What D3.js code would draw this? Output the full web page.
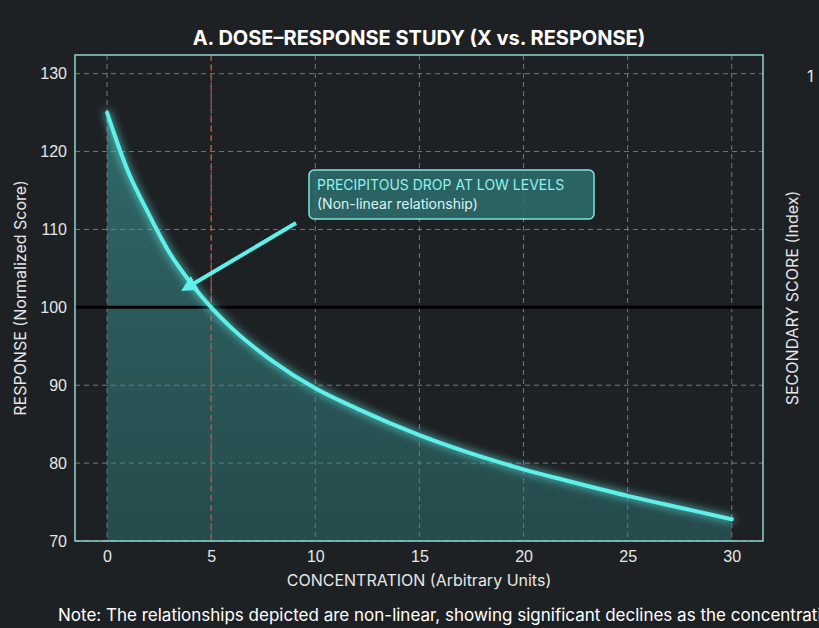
<!DOCTYPE html>
<html>
<head>
<meta charset="utf-8">
<script src="https://cdn.jsdelivr.net/npm/d3@7"></script>
<style>
  body { margin: 0; background: #1e2124; }
  svg { display: block; font-family: "Inter", "Noto Sans", sans-serif; }
</style>
</head>
<body>
<svg id="chart"></svg>
<script>
// neutral placeholder data (dose vs. response)
const xValues = [0, 1, 2, 3, 4, 5, 6, 8, 10, 12, 15, 18, 20, 22, 25, 28, 30];
const yValues = [125, 117.5, 112, 107, 103.2, 100, 97.3, 93, 89.6, 87, 83.6, 80.8, 79.2, 77.8, 75.8, 74, 72.8];
const xTicks = [0, 5, 10, 15, 20, 25, 30];
const yTicks = [70, 80, 90, 100, 110, 120, 130];

const width = 819, height = 628;
const svg = d3.select("#chart").attr("width", width).attr("height", height);

const mLeft = 75, mRight = 763, mTop = 55, mBottom = 541;

const x = d3.scaleLinear().domain([-1.54, 31.5]).range([mLeft, mRight]);
const y = d3.scaleLinear().domain([70, 132.4]).range([mBottom, mTop]);

const defs = svg.append("defs");
const glow = defs.append("filter").attr("id", "glow")
  .attr("x", "-20%").attr("y", "-20%").attr("width", "140%").attr("height", "140%");
glow.append("feGaussianBlur").attr("stdDeviation", 4).attr("result", "blur");
const merge = glow.append("feMerge");
merge.append("feMergeNode").attr("in", "blur");
merge.append("feMergeNode").attr("in", "SourceGraphic");

const grad = defs.append("linearGradient").attr("id", "fillGrad")
  .attr("x1", 0).attr("y1", 0).attr("x2", 0).attr("y2", 1);
grad.append("stop").attr("offset", "0%").attr("stop-color", "#3fa3a0").attr("stop-opacity", 0.55);
grad.append("stop").attr("offset", "100%").attr("stop-color", "#2f7f7d").attr("stop-opacity", 0.45);

// grid
svg.append("g").selectAll("line").data(xTicks).join("line")
  .attr("x1", d => x(d)).attr("x2", d => x(d)).attr("y1", mTop).attr("y2", mBottom)
  .attr("stroke", "#8a8f93").attr("stroke-dasharray", "5,4").attr("stroke-width", 0.8);
svg.append("g").selectAll("line").data(yTicks).join("line")
  .attr("x1", mLeft).attr("x2", mRight).attr("y1", d => y(d)).attr("y2", d => y(d))
  .attr("stroke", "#8a8f93").attr("stroke-dasharray", "5,4").attr("stroke-width", 0.8);

const data = xValues.map((v, i) => [v, yValues[i]]);

// area
svg.append("path").datum(data)
  .attr("fill", "url(#fillGrad)")
  .attr("d", d3.area().x(d => x(d[0])).y0(mBottom).y1(d => y(d[1])).curve(d3.curveMonotoneX));

// reference lines
svg.append("line").attr("x1", x(5)).attr("x2", x(5)).attr("y1", mTop).attr("y2", mBottom)
  .attr("stroke", "#d9463c").attr("stroke-dasharray", "6,4").attr("stroke-width", 1.2);
svg.append("line").attr("x1", mLeft).attr("x2", mRight).attr("y1", y(100)).attr("y2", y(100))
  .attr("stroke", "#000").attr("stroke-width", 3);

// curve
svg.append("path").datum(data)
  .attr("fill", "none").attr("stroke", "#5ff0ea").attr("stroke-width", 4)
  .attr("stroke-linecap", "round").attr("filter", "url(#glow)")
  .attr("d", d3.line().x(d => x(d[0])).y(d => y(d[1])).curve(d3.curveMonotoneX));

// frame
svg.append("rect").attr("x", mLeft).attr("y", mTop).attr("width", mRight - mLeft).attr("height", mBottom - mTop)
  .attr("fill", "none").attr("stroke", "#8fd3d0").attr("stroke-width", 1.5);

// axes
const xAxis = svg.append("g").attr("transform", `translate(0,${mBottom})`)
  .call(d3.axisBottom(x).tickValues(xTicks).tickSize(0).tickPadding(10));
const yAxis = svg.append("g").attr("transform", `translate(${mLeft},0)`)
  .call(d3.axisLeft(y).tickValues(yTicks).tickSize(0).tickPadding(8));
[xAxis, yAxis].forEach(a => {
  a.select(".domain").remove();
  a.selectAll("text").attr("fill", "#e6e6e6").style("font-size", "16px");
});

// callout
const box = svg.append("g");
box.append("rect").attr("x", 309).attr("y", 170).attr("width", 285).attr("height", 49).attr("rx", 5)
  .attr("fill", "#2e6f6e").attr("fill-opacity", 0.85).attr("stroke", "#7fe3de").attr("stroke-width", 1.5);
box.append("text").attr("x", 317).attr("y", 190).text("PRECIPITOUS DROP AT LOW LEVELS")
  .attr("fill", "#8ff3ee").style("font-size", "14px");
box.append("text").attr("x", 317).attr("y", 209).text("(Non-linear relationship)")
  .attr("fill", "#d8f5f3").style("font-size", "14px");

defs.append("marker").attr("id", "arrow").attr("viewBox", "0 0 10 10")
  .attr("refX", 5).attr("refY", 5).attr("markerWidth", 4).attr("markerHeight", 4).attr("orient", "auto")
  .append("path").attr("d", "M0,0L10,5L0,10z").attr("fill", "#5ff0ea");
svg.append("line").attr("x1", 296).attr("y1", 223).attr("x2", 188).attr("y2", 287)
  .attr("stroke", "#5ff0ea").attr("stroke-width", 4).attr("marker-end", "url(#arrow)");

// titles
svg.append("text").attr("x", 419).attr("y", 45).attr("text-anchor", "middle")
  .text("A. DOSE–RESPONSE STUDY (X vs. RESPONSE)")
  .attr("fill", "#fff").style("font-size", "20px").style("font-weight", "bold");
svg.append("text").attr("x", 419).attr("y", 586).attr("text-anchor", "middle")
  .text("CONCENTRATION (Arbitrary Units)").attr("fill", "#e6e6e6").style("font-size", "16px");
svg.append("text").attr("transform", `translate(26,${(mTop + mBottom) / 2}) rotate(-90)`)
  .attr("text-anchor", "middle").text("RESPONSE (Normalized Score)")
  .attr("fill", "#e6e6e6").style("font-size", "16px");
svg.append("text").attr("transform", `translate(798,${(mTop + mBottom) / 2}) rotate(-90)`)
  .attr("text-anchor", "middle").text("SECONDARY SCORE (Index)")
  .attr("fill", "#e6e6e6").style("font-size", "16px");
svg.append("text").attr("x", 807).attr("y", 82).text("1").attr("fill", "#e6e6e6").style("font-size", "16px");
svg.append("text").attr("x", 58).attr("y", 621)
  .text("Note: The relationships depicted are non-linear, showing significant declines as the concentration increases.")
  .attr("fill", "#fff").style("font-size", "17px");
</script>
</body>
</html>
